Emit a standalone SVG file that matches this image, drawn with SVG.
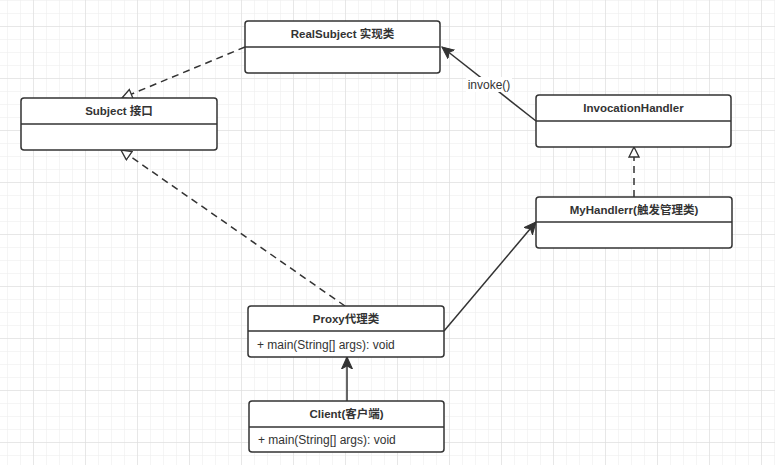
<svg xmlns="http://www.w3.org/2000/svg" width="775" height="465" viewBox="0 0 775 465">
<defs>
<pattern id="gMinor" x="7" y="0" width="13" height="13" patternUnits="userSpaceOnUse">
<path d="M0 0H13M0 0V13" fill="none" stroke="#ebebeb" stroke-width="1"/>
</pattern>
<pattern id="gMajor" x="33" y="26" width="52" height="52" patternUnits="userSpaceOnUse">
<path d="M0 0H52M0 0V52" fill="none" stroke="#dadada" stroke-width="1"/>
</pattern>
<marker id="tri" viewBox="0 0 12 12" refX="11" refY="6" markerWidth="12" markerHeight="12" markerUnits="userSpaceOnUse" orient="auto">
<path d="M1 1L11 6L1 11Z" fill="#fff" stroke="#333" stroke-width="1.3"/>
</marker>
<marker id="arr" viewBox="0 0 12 12" refX="11" refY="6" markerWidth="13" markerHeight="13" markerUnits="userSpaceOnUse" orient="auto">
<path d="M0 1L11 6L0 11L3 6Z" fill="#333" stroke="#333" stroke-width="1"/>
</marker>
</defs>
<style>
.box{fill:#fff;stroke:#333;stroke-width:1.5}
.div{stroke:#333;stroke-width:1.5}
.t{font-family:"Liberation Sans","Noto Sans CJK SC",sans-serif;font-size:11.5px;fill:#333}
.h{font-weight:bold;text-anchor:middle}
.m{font-size:12px}
.ln{fill:none;stroke:#333;stroke-width:1.5}
.dash{stroke-dasharray:7 5}
</style>
<rect width="775" height="465" fill="#fff"/>
<rect width="775" height="465" fill="url(#gMinor)"/>
<rect width="775" height="465" fill="url(#gMajor)"/>

<g id="connectors">
<path class="ln dash" d="M245 47L122 98" marker-end="url(#tri)"/>
<path class="ln dash" d="M345 306L121 150" marker-end="url(#tri)"/>
<path class="ln dash" d="M634 197L634 147" marker-end="url(#tri)"/>
<path class="ln" d="M536 121L442 47" marker-end="url(#arr)"/>
<path class="ln" d="M444 331L536 222" marker-end="url(#arr)"/>
<path class="ln" d="M347 401L347 357" marker-end="url(#arr)"/>
<rect x="466" y="77" width="46" height="15" fill="#fff"/>
<text class="t m" x="489" y="89" text-anchor="middle">invoke()</text>
</g>

<g id="realsubject">
<rect class="box" x="245" y="21" width="195" height="52" rx="3"/>
<line class="div" x1="245" y1="47" x2="440" y2="47"/>
<text class="t h" x="342.5" y="38">RealSubject 实现类</text>
</g>
<g id="subject">
<rect class="box" x="21" y="98" width="196" height="52" rx="3"/>
<line class="div" x1="21" y1="124" x2="217" y2="124"/>
<text class="t h" x="119" y="115">Subject 接口</text>
</g>
<g id="invocationhandler">
<rect class="box" x="536" y="95" width="195" height="52" rx="3"/>
<line class="div" x1="536" y1="121" x2="731" y2="121"/>
<text class="t h" x="633.5" y="112">InvocationHandler</text>
</g>
<g id="myhandlerr">
<rect class="box" x="536" y="197" width="196" height="51" rx="3"/>
<line class="div" x1="536" y1="222" x2="732" y2="222"/>
<text class="t h" x="634" y="214">MyHandlerr(触发管理类)</text>
</g>
<g id="proxy">
<rect class="box" x="248" y="306" width="196" height="51" rx="3"/>
<line class="div" x1="248" y1="331" x2="444" y2="331"/>
<text class="t h" x="346" y="323">Proxy代理类</text>
<text class="t m" x="257" y="349">+ main(String[] args): void</text>
</g>
<g id="client">
<rect class="box" x="249" y="401" width="195" height="51" rx="3"/>
<line class="div" x1="249" y1="427" x2="444" y2="427"/>
<text class="t h" x="346.5" y="418">Client(客户端)</text>
<text class="t m" x="258" y="444">+ main(String[] args): void</text>
</g>
</svg>
